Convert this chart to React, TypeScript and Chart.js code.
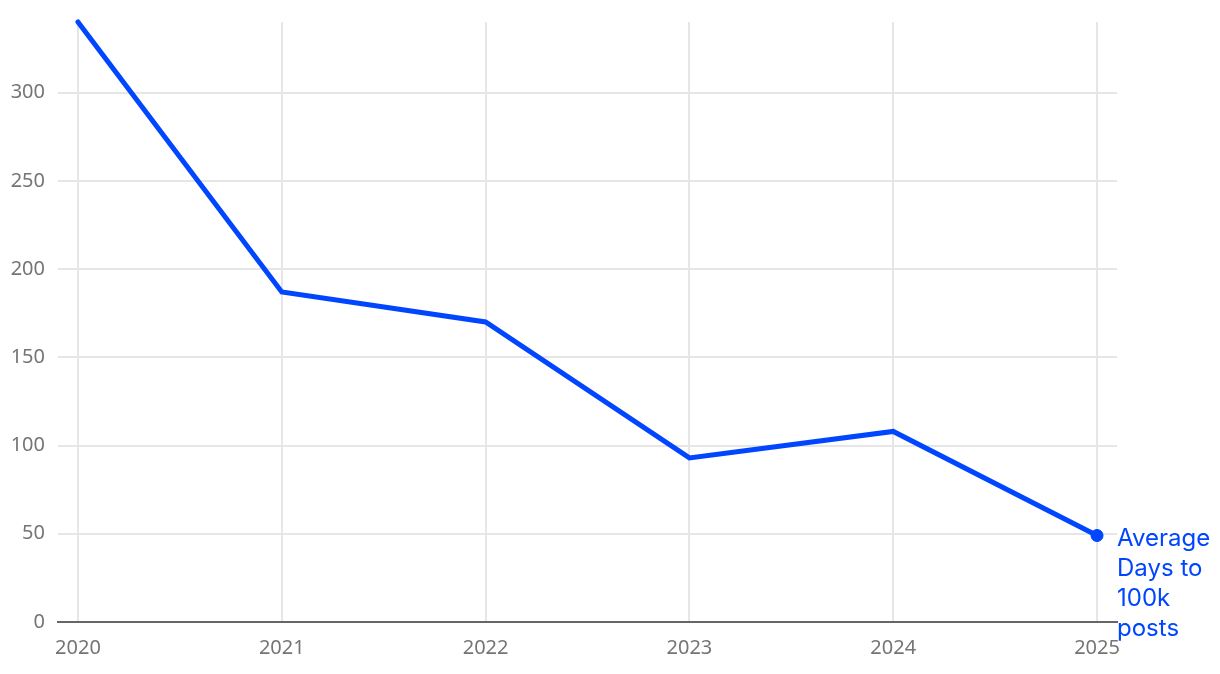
import React, { useEffect, useRef } from "react";
import { Chart, registerables } from "chart.js";

Chart.register(...registerables);

const years = [2020, 2021, 2022, 2023, 2024, 2025];
const avgDays = [340, 187, 170, 93, 108, 49];
const seriesLabel = ["Average", "Days to", "100k", "posts"];
const yTicks = [0, 50, 100, 150, 200, 250, 300];

const BLUE = "#0046ff";
const GRAY_TEXT = "#757575";
const GRID = "#e6e6e6";

const endLabelPlugin = {
  id: "endLabel",
  afterDatasetsDraw(chart: any) {
    const meta = chart.getDatasetMeta(0);
    const pt = meta.data[meta.data.length - 1];
    if (!pt) return;
    const ctx = chart.ctx;
    ctx.save();
    ctx.fillStyle = BLUE;
    ctx.font = "24px Inter";
    ctx.textAlign = "left";
    ctx.textBaseline = "alphabetic";
    seriesLabel.forEach((line, i) => {
      ctx.fillText(line, pt.x + 20, pt.y + 10 + i * 30);
    });
    ctx.restore();
  },
};

export default function App() {
  const ref = useRef<HTMLCanvasElement>(null);
  useEffect(() => {
    if (!ref.current) return;
    const chart = new Chart(ref.current, {
      type: "line",
      data: {
        datasets: [
          {
            label: "Average Days to 100k posts",
            data: years.map((y, i) => ({ x: y, y: avgDays[i] })),
            borderColor: BLUE,
            backgroundColor: BLUE,
            borderWidth: 5,
            borderCapStyle: "round",
            pointRadius: years.map((_, i) => (i === years.length - 1 ? 6 : 0)),
            pointHoverRadius: 6,
            pointBorderWidth: 1,
            pointBorderColor: BLUE,
            pointBackgroundColor: BLUE,
            tension: 0,
            clip: false as any,
          },
        ],
      },
      options: {
        animation: false,
        responsive: true,
        maintainAspectRatio: false,
        layout: { padding: { left: 0, right: 103, top: 22, bottom: 0 } },
        plugins: {
          legend: { display: false },
          tooltip: { enabled: false },
        },
        scales: {
          x: {
            type: "linear",
            min: 2019.902,
            max: 2025.098,
            grid: { color: GRID, lineWidth: 2, drawTicks: false },
            border: { display: true, color: "#666666", width: 2, z: 1 },
            ticks: {
              stepSize: 1,
              includeBounds: false,
              padding: 14,
              color: GRAY_TEXT,
              font: { family: "'Noto Sans'", size: 20 },
              callback: (v: any) => (years.includes(v) ? String(v) : ""),
              maxRotation: 0,
              autoSkip: false,
            },
          },
          y: {
            min: 0,
            max: 340,
            grid: { color: GRID, lineWidth: 2, drawTicks: false },
            border: { display: false },
            afterBuildTicks: (scale: any) => {
              scale.ticks = yTicks.map((v) => ({ value: v }));
            },
            afterFit: (scale: any) => {
              scale.width = 58;
              scale.paddingTop = 0;
              scale.paddingBottom = 0;
            },
            ticks: {
              padding: 13,
              color: GRAY_TEXT,
              font: { family: "'Noto Sans'", size: 20 },
            },
          },
        },
      },
      plugins: [endLabelPlugin],
    });
    return () => chart.destroy();
  }, []);
  return (
    <div style={{ position: "fixed", left: 0, top: 0, width: 1220, height: 674, background: "#fff" }}>
      <canvas ref={ref} />
    </div>
  );
}
